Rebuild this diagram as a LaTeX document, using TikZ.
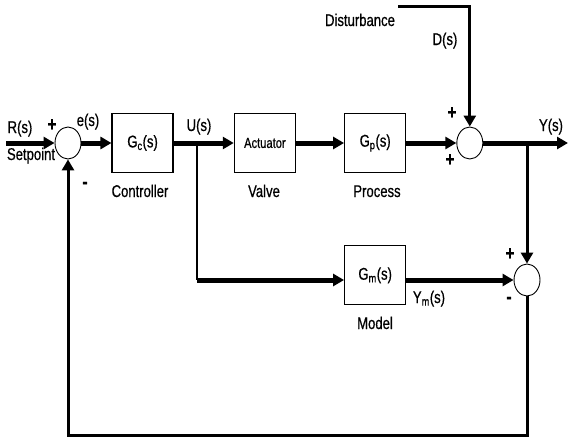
\documentclass[tikz,border=0pt]{standalone}
\usepackage{fontspec}
\setmainfont{Liberation Sans}[FakeStretch=0.77, FakeBold=0.6]
\usetikzlibrary{arrows.meta,positioning,shapes.geometric}

\begin{document}
\begin{tikzpicture}[
        x=1pt, y=1pt,
    % node distance: vertical, horizontal
        node distance=30pt and 50pt,
    % Estilo dos blocos (controlador, atuador, processo, modelo)
        block/.style={rectangle, draw, line width=1.3pt, minimum width=61pt, minimum height=59pt, inner sep=0pt, font=\fontsize{17}{19}\selectfont},
    % Estilo dos somadores
        sumjunc/.style={ellipse, draw, line width=0.9pt, minimum width=26pt, minimum height=32pt, inner sep=0pt},
        lbl/.style={inner sep=0pt, font=\fontsize{17}{19}\selectfont},
        sign/.style={inner sep=0pt, font=\fontsize{20}{22}\bfseries\selectfont},
        sig/.style={-{Triangle[length=11pt,width=12pt]}, line width=5pt},
        thinsig/.style={-{Triangle[length=11pt,width=12pt]}, line width=3pt},
        wire/.style={line width=2.2pt}
    ]
        \useasboundingbox (0,0) rectangle (569,-439);

        % --- MALHA PRINCIPAL ---
        \node[sumjunc] (sum1) at (68,-143) {};
        \node[block, right=30pt of sum1] (ctrl) {G\textsubscript{c}(s)};
        \node[block, right=60pt of ctrl, font=\fontsize{14.5}{16}\selectfont] (act) {Actuator};
        \node[block, right=48pt of act] (proc) {G\textsubscript{p}(s)};
        \node[sumjunc, right=50pt of proc] (sum3) {};

        % --- MODELO ---
        \node[block, below=72pt of proc] (model) {G\textsubscript{m}(s)};
        \node[sumjunc] (sum2) at (527,-280) {};

        % --- PONTOS AUXILIARES ---
        \coordinate (rin) at (6,-143);
        \coordinate (ubr) at (197,-143);
        \coordinate (ybr) at (sum2 |- sum3);
        \coordinate (yout) at (568,-143);
        \coordinate (dstart) at (398,-6);
        \coordinate (fbot) at (sum2 |- 0,-435);

        % --- TEXTOS ---
        \node[lbl, anchor=base] (rlbl) at (20,-133) {R(s)};
        \node[lbl, anchor=base] (setlbl) at (31,-160) {Setpoint};
        \node[lbl, anchor=base] (elbl) at (88,-126) {e(s)};
        \node[lbl, anchor=base] (ulbl) at (199,-131) {U(s)};
        \node[lbl, anchor=base] (ctrllbl) at (140,-197) {Controller};
        \node[lbl, anchor=base] (actlbl) at (264,-197) {Valve};
        \node[lbl, anchor=base] (proclbl) at (377,-197) {Process};
        \node[lbl, anchor=base] (distlbl) at (360,-26) {Disturbance};
        \node[lbl, anchor=base] (dlbl) at (445,-45) {D(s)};
        \node[lbl, anchor=base] (ylbl) at (551,-131) {Y(s)};
        \node[lbl, anchor=base] (ymlbl) at (429,-303) {Y\textsubscript{m}(s)};
        \node[lbl, anchor=base] (modellbl) at (375,-329) {Model};

        % sinais dos somadores
        \node[sign] (s1plus) at (52,-125) {+};
        \node[sign] (s1minus) at (85,-185) {-};
        \node[sign] (s3plusa) at (452,-113) {+};
        \node[sign] (s3plusb) at (450,-160) {+};
        \node[sign] (s2plus) at (510,-254) {+};
        \node[sign] (s2minus) at (509,-300) {-};

        % --- LIGAÇÕES ---
        \draw[sig] (rin) -- (sum1.west);
        \draw[sig] (sum1.east) -- (ctrl.west);
        \draw[sig] (ctrl.east) -- (act.west);
        \draw[sig] (act.east) -- (proc.west);
        \draw[sig] (proc.east) -- (sum3.west);
        \draw[sig] (sum3.east) -- (yout);
        \draw[thinsig] (dstart) -- (dstart -| sum3) -- (sum3.north);

        \draw[wire] (ubr) -- (ubr |- sum2);
        \draw[sig] (ubr |- sum2) -- (model.west |- sum2);
        \draw[sig] (model.east |- sum2) -- (sum2.west);
        \draw[thinsig] (ybr) -- (sum2.north);
        \draw[thinsig] (sum2.south) -- (fbot) -- (fbot -| sum1) -- (sum1.south);
    \end{tikzpicture}
\end{document}
